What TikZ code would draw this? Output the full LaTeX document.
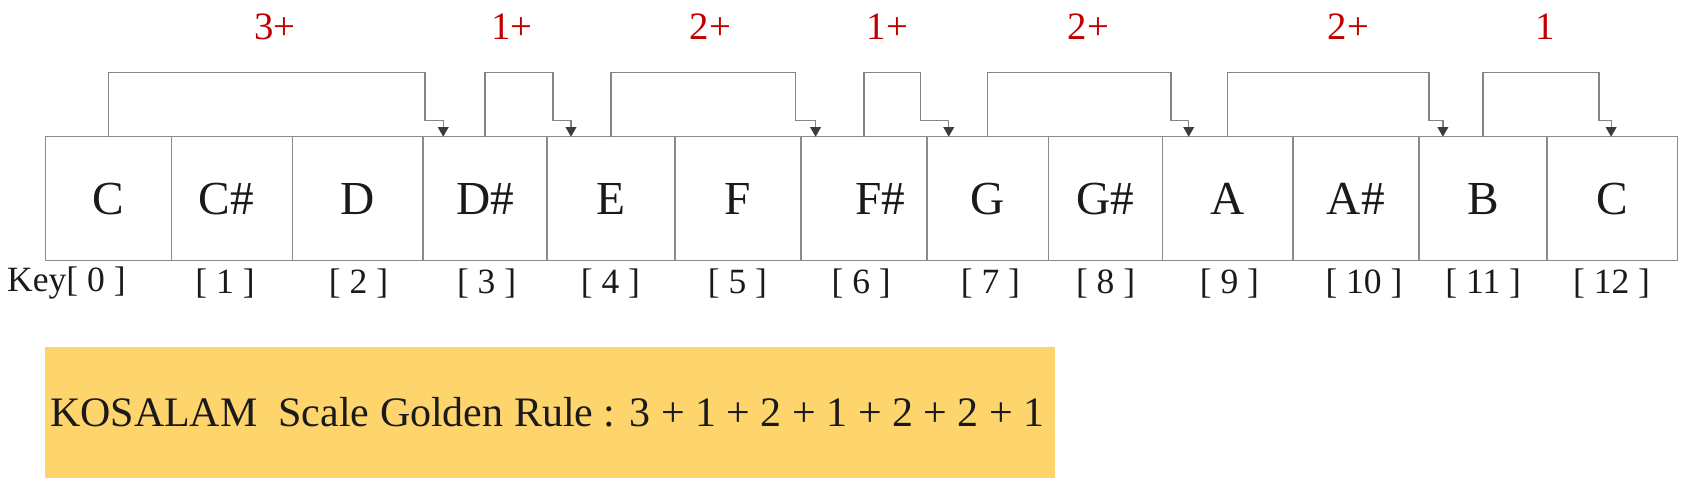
\documentclass[tikz,border=0pt]{standalone}
\usepackage{fontspec}
\setmainfont{Liberation Serif}
\usetikzlibrary{arrows.meta,calc}
\definecolor{boxgray}{HTML}{8C8C8C}
\definecolor{linegray}{HTML}{858585}
\definecolor{arrowdark}{HTML}{3C3C3C}
\definecolor{redlab}{HTML}{C00000}
\definecolor{golden}{HTML}{FDD56C}
\definecolor{ink}{HTML}{1A1A1A}
\newcommand\keyjump[4]{\draw[conn] (#1.north) |- ($(#2.north west)+(#3-#4,-59.5)$) -- ++(0,44.5) -| ($(#2.north west)+(#3,0)$);}
\begin{document}
\begin{tikzpicture}[x=1pt,y=-1pt,
  keybox/.style={draw=boxgray,line width=1.2pt,minimum height=115pt,inner sep=0pt,outer sep=0pt,anchor=north west,text=ink,font=\fontsize{44}{50}\selectfont},
  idx/.style={text=ink,font=\fontsize{33}{38}\selectfont,inner sep=0pt},
  steplab/.style={text=redlab,font=\fontsize{36}{40}\selectfont,inner sep=0pt},
  conn/.style={draw=linegray,line width=1.2pt,-{Triangle[width=10pt,length=9pt,color=arrowdark]}},
  rulebox/.style={fill=golden,draw=none,inner sep=0pt,anchor=north west,text=ink,font=\fontsize{39}{44}\selectfont}
]
\useasboundingbox (0,0) rectangle (1568,459);

% key boxes
\node[keybox,minimum width=117pt] (k0) at (42,127) {C};
\node[keybox,minimum width=113pt] (k1) at (159,127) {\hspace*{-11pt}C\#};
\node[keybox,minimum width=121pt] (k2) at (272,127) {D};
\node[keybox,minimum width=115pt] (k3) at (393,127) {D\#};
\node[keybox,minimum width=119pt] (k4) at (508,127) {E};
\node[keybox,minimum width=117pt] (k5) at (627,127) {F};
\node[keybox,minimum width=117pt] (k6) at (744,127) {\hspace*{31pt}F\#};
\node[keybox,minimum width=113pt] (k7) at (861,127) {G};
\node[keybox,minimum width=106pt] (k8) at (974,127) {G\#};
\node[keybox,minimum width=121pt] (k9) at (1080,127) {A};
\node[keybox,minimum width=117pt] (k10) at (1201,127) {A\#};
\node[keybox,minimum width=119pt] (k11) at (1318,127) {B};
\node[keybox,minimum width=121pt] (k12) at (1437,127) {C};

% index labels
\node[idx] (i0) at (61.7,263) {Key[ 0 ]};
\node[idx] (i1) at (209,263) {[ 1 ]};
\node[idx] (i2) at (333,263) {[ 2 ]};
\node[idx] (i3) at (452,263) {[ 3 ]};
\node[idx] (i4) at (567,263) {[ 4 ]};
\node[idx] (i5) at (685,263) {[ 5 ]};
\node[idx] (i6) at (800,263) {[ 6 ]};
\node[idx] (i7) at (920,263) {[ 7 ]};
\node[idx] (i8) at (1027,263) {[ 8 ]};
\node[idx] (i9) at (1142,263) {[ 9 ]};
\node[idx] (i10) at (1267,263) {[ 10 ]};
\node[idx] (i11) at (1377.7,263) {[ 11 ]};
\node[idx] (i12) at (1497,263) {[ 12 ]};

% step labels
\node[steplab] (s1) at (255.3,24.8) {3+};
\node[steplab] (s2) at (475.7,24.8) {1+};
\node[steplab] (s3) at (660,24.8) {2+};
\node[steplab] (s4) at (824.4,24.8) {1+};
\node[steplab] (s5) at (1011,24.8) {2+};
\node[steplab] (s6) at (1252.7,24.8) {2+};
\node[steplab] (s7) at (1435,24.8) {1};

% connectors
\keyjump{k0}{k3}{18.7}{17}
\keyjump{k3}{k4}{22.4}{16.7}
\keyjump{k4}{k6}{13.6}{18.9}
\keyjump{k6}{k7}{20.3}{26}
\keyjump{k7}{k9}{24.2}{16.4}
\keyjump{k9}{k11}{22.3}{13}
\keyjump{k11}{k12}{59.6}{11.2}

% rule box
\node[rulebox,minimum width=938pt,minimum height=122pt] (rule) at (41.7,322)
  {\hspace*{-5pt}KOSALAM\ \ Scale Golden Rule : 3 + 1 + 2 + 1 + 2 + 2 + 1};
\end{tikzpicture}
\end{document}
